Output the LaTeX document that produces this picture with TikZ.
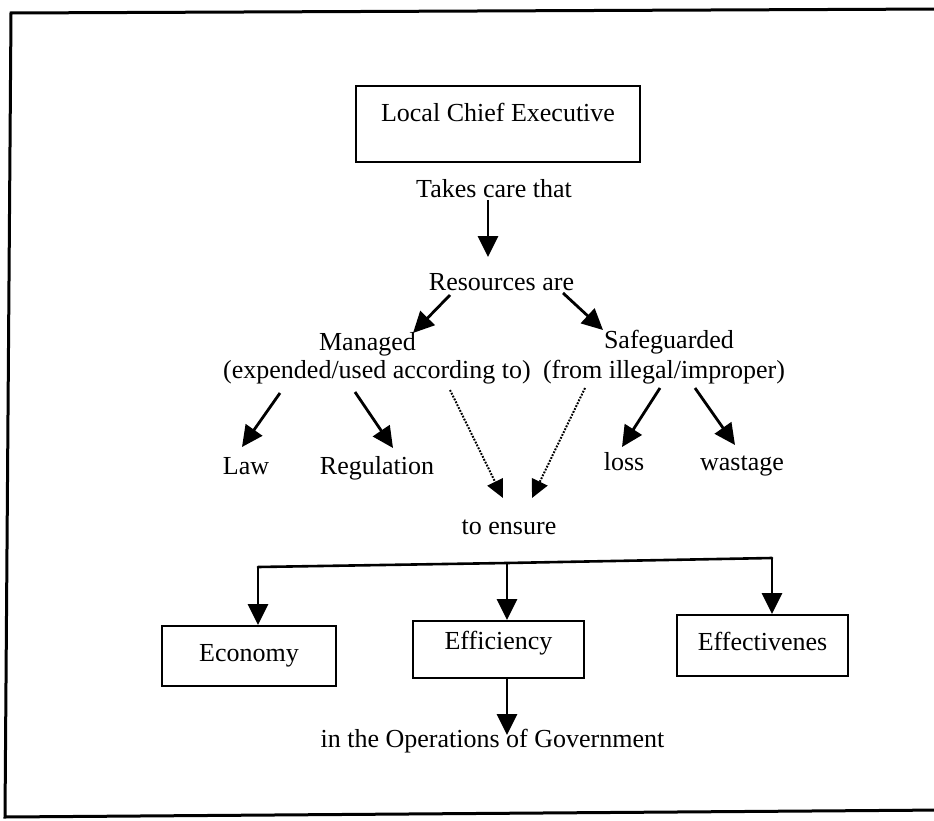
\documentclass[tikz,border=0pt]{standalone}
\usepackage{fontspec}
\setmainfont{Liberation Serif}
\usetikzlibrary{arrows.meta,calc}

\begin{document}
\begin{tikzpicture}[x=1pt,y=-1pt,
  lbl/.style={inner sep=0pt,anchor=base,font=\fontsize{26}{28}\selectfont},
  boxnode/.style={lbl,draw,line width=2pt},
  arr/.style={line width=2.8pt,-{Triangle[length=21pt,width=20pt]}},
  dotarr/.style={line width=2pt,dash pattern=on 1.8pt off 1.4pt,-{Triangle[length=18pt,width=17pt]}},
  rule/.style={line width=2.6pt}]

% page area and the scanned frame (open on the right)
\useasboundingbox (0,0) rectangle (934,821);
\fill[white] (0,0) rectangle (934,821);
\clip (0,0) rectangle (934,821);
\draw[line width=3pt,line join=miter] (945,9) -- (11,13) -- (5,817) -- (945,810);

% boxes
\node[boxnode,minimum width=284pt,text height=36pt,text depth=40pt] (lce) at (498,122) {Local Chief Executive};
\node[boxnode,minimum width=174pt,text height=35pt,text depth=25pt] (econ) at (249,661) {Economy};
\node[boxnode,minimum width=171pt,text height=28pt,text depth=29pt] (eff) at (498.5,649) {Efficiency};
\node[boxnode,minimum width=171pt,text height=35pt,text depth=26pt] (effv) at (762.5,650) {Effectivenes};

% plain labels
\node[lbl] (takes)  at (494,197)   {Takes care that};
\node[lbl] (res)    at (501.5,290) {Resources are};
\node[lbl] (man)    at (367.5,350) {Managed};
\node[lbl] (manx)   at (377,378)   {(expended/used according to)};
\node[lbl] (safe)   at (669,348)   {Safeguarded};
\node[lbl] (safex)  at (664,378)   {(from illegal/improper)};
\node[lbl] (law)    at (246,474)   {Law};
\node[lbl] (reg)    at (377,474)   {Regulation};
\node[lbl] (loss)   at (624,470)   {loss};
\node[lbl] (waste)  at (742,470)   {wastage};
\node[lbl] (ensure) at (509,534)   {to ensure};
\node[lbl] (gov)    at (492.5,747) {in the Operations of Government};

% upper connectors
\draw[arr] ($(takes.base)+(-6,3)$) -- ($(res.base)+(-13.5,-33)$);
\draw[arr] ($(res.base)+(-51.5,5)$) -- ($(man.base)+(45.5,-17)$);
\draw[arr] ($(res.base)+(61.5,3)$) -- ($(safe.base)+(-66,-18)$);
\draw[arr] ($(manx.base)+(-97,15)$) -- ($(law.base)+(-4,-27)$);
\draw[arr] ($(manx.base)+(-22,14)$) -- ($(reg.base)+(16,-26)$);
\draw[arr] ($(safex.base)+(-4,10)$) -- ($(loss.base)+(-2,-23)$);
\draw[arr] ($(safex.base)+(31,10)$) -- ($(waste.base)+(-7,-25)$);
\draw[dotarr] ($(manx.base)+(73,12)$) -- ($(ensure.base)+(-6,-36)$);
\draw[dotarr] ($(safex.base)+(-79,10)$) -- ($(ensure.base)+(23,-36)$);

% branching bar to the three outcomes
\coordinate (barL) at (258,567);
\coordinate (barM) at (507,563);
\coordinate (barR) at (772,558);
\draw[rule,line cap=round] (barL) -- (barM) -- (barR);
\draw[arr] (barL) -- (econ.north -| barL);
\draw[arr] (barM) -- (eff.north -| barM);
\draw[arr] (barR) -- (effv.north -| barR);

% efficiency leads to the closing line
\draw[arr] (eff.south -| barM) -- ($(gov.base)+(14.5,-12)$);
\end{tikzpicture}
\end{document}
